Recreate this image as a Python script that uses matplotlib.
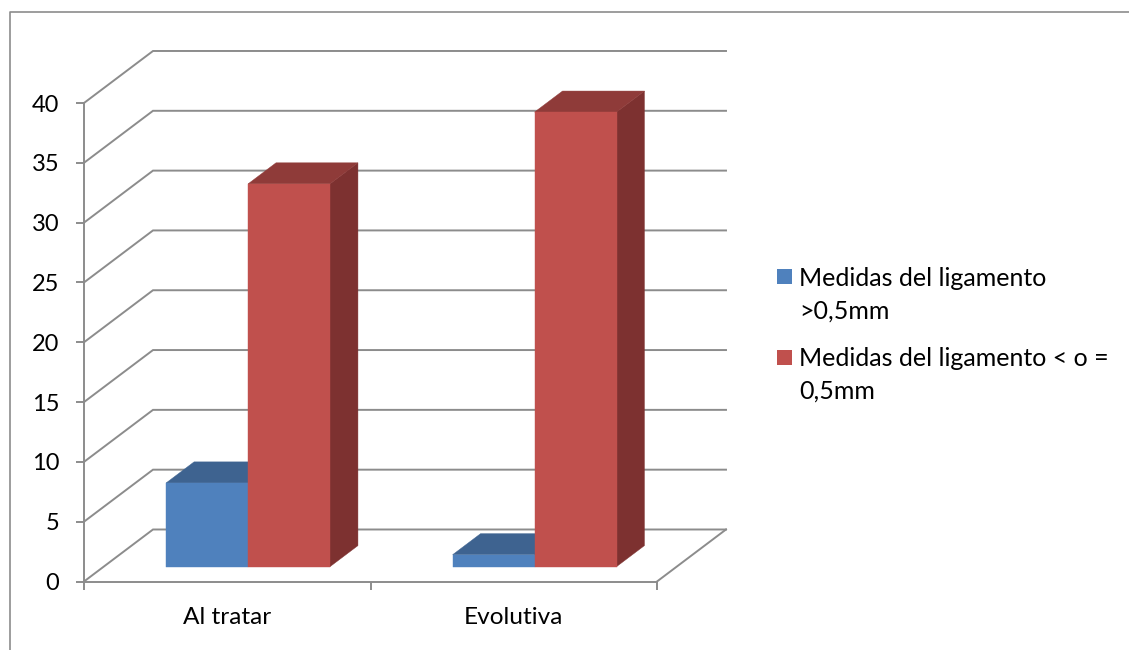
import matplotlib
matplotlib.use("Agg")
import matplotlib.pyplot as plt
from matplotlib.lines import Line2D
from matplotlib.patches import Polygon, Rectangle

categories = ["Al tratar", "Evolutiva"]
medidas_mayor = [7, 1]
medidas_menor = [32, 38]
series_names = ["Medidas del ligamento\n>0,5mm", "Medidas del ligamento < o =\n0,5mm"]
y_ticks = [0, 5, 10, 15, 20, 25, 30, 35, 40]

W, H = 1129, 650
GREY = "#8c8c8c"
LINE_W = 1.4

# how far the back wall sits behind the front plane, in data units
DEPTH_X = 69 / 286.5
DEPTH_Y = 52 / 11.96
BAR_W = 0.286
BAR_NEAR = 0.285
BAR_FAR = 0.69
BAR_SHIFT = 0.004

plt.rcParams["font.family"] = ["Lato", "DejaVu Sans"]

fig = plt.figure(figsize=(W / 100, H / 100), dpi=100)
fig.patch.set_facecolor("white")
ax = fig.add_axes([84 / W, 1 - 581.5 / H, (657 - 84) / W, (581.5 - 103) / H])
ax.set_xlim(0, 2)
ax.set_ylim(0, 40)
ax.patch.set_visible(False)


def oblique(x, y, d):
    return x + DEPTH_X * d, y + DEPTH_Y * d


def draw_box(x0, x1, value, front, top, side):
    # side, top and front faces of one bar
    quad_side = [oblique(x1, 0, BAR_NEAR), oblique(x1, 0, BAR_FAR),
                 oblique(x1, value, BAR_FAR), oblique(x1, value, BAR_NEAR)]
    quad_top = [oblique(x0, value, BAR_NEAR), oblique(x1, value, BAR_NEAR),
                oblique(x1, value, BAR_FAR), oblique(x0, value, BAR_FAR)]
    quad_front = [oblique(x0, 0, BAR_NEAR), oblique(x1, 0, BAR_NEAR),
                  oblique(x1, value, BAR_NEAR), oblique(x0, value, BAR_NEAR)]
    for pts, col in [(quad_side, side), (quad_top, top), (quad_front, front)]:
        ax.add_patch(Polygon(pts, closed=True, facecolor=col, edgecolor=col,
                             lw=0.3, clip_on=False, zorder=3))


# walls: each gridline runs from the front axis back and along the rear wall
for v in y_ticks:
    bx, by = oblique(0, v, 1)
    ex, ey = oblique(2, v, 1)
    ax.plot([0, bx, ex], [v, by, ey], color=GREY, lw=LINE_W, clip_on=False, zorder=1,
            solid_joinstyle="miter")
ex, ey = oblique(2, 0, 1)
ax.plot([2, ex], [0, ey], color=GREY, lw=LINE_W, clip_on=False, zorder=1)

for i in range(len(categories)):
    c = i + 0.5 + BAR_SHIFT
    draw_box(c - BAR_W, c, medidas_mayor[i], "#4f81bd", "#3e6390", "#355a85")
    draw_box(c, c + BAR_W, medidas_menor[i], "#c0504d", "#8f3b39", "#7d3130")

for name in ["top", "right"]:
    ax.spines[name].set_visible(False)
for name in ["left", "bottom"]:
    ax.spines[name].set_color(GREY)
    ax.spines[name].set_linewidth(LINE_W)

ax.set_yticks(y_ticks)
ax.set_xticks([0, 1, 2])
ax.set_xticklabels([])
ax.set_xticks([0.5, 1.5], minor=True)
ax.set_xticklabels(categories, minor=True)
ax.tick_params(axis="both", which="major", length=5.8, width=LINE_W, color=GREY)
ax.tick_params(axis="x", which="minor", length=0, pad=18.5, labelsize=17.6, labelcolor="black")
ax.tick_params(axis="y", which="major", pad=12, labelsize=17, labelcolor="black")

# legend squares with wrapped labels
legend_rows = [(269, 267.5, "#4f81bd"), (349.5, 347.5, "#c0504d")]
for (sq_y, txt_y, col), label in zip(legend_rows, series_names):
    fig.add_artist(Rectangle((777 / W, 1 - (sq_y + 15) / H), 15 / W, 15 / H,
                             transform=fig.transFigure, facecolor=col, edgecolor="none"))
    fig.text(799 / W, 1 - txt_y / H, label, fontsize=18, color="black",
             va="top", ha="left", linespacing=1.5)

# outer chart border, open on the right and bottom
fig.add_artist(Line2D([9.5 / W, 9.5 / W, 1], [0, 1 - 11.5 / H, 1 - 11.5 / H],
                      color=GREY, lw=1.2, transform=fig.transFigure))

fig.savefig("out.png", dpi=100)
